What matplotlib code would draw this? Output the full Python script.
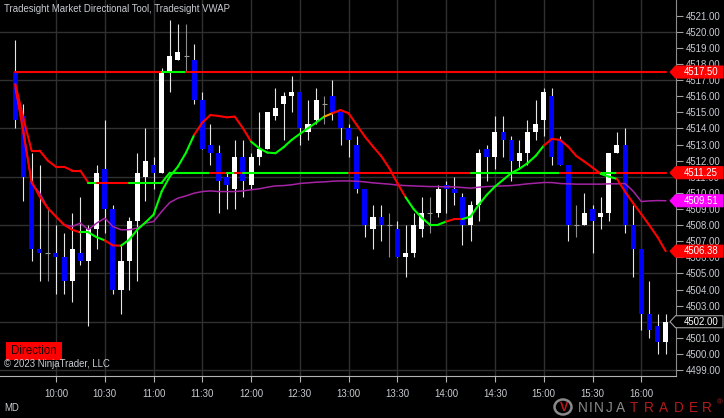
import matplotlib
matplotlib.use("Agg")
import matplotlib.pyplot as plt
import numpy as np
from matplotlib.patches import Polygon, Rectangle, Ellipse
from matplotlib.collections import LineCollection
from matplotlib.ticker import FixedLocator, FuncFormatter

# ---------------- data ----------------
session_start = "09:35"
bar_minutes = 5
time_labels = ["10:00", "10:30", "11:00", "11:30", "12:00", "12:30", "13:00",
               "13:30", "14:00", "14:30", "15:00", "15:30", "16:00"]
price_ticks = list(range(4499, 4522))

opens = [4517.50, 4514.75, 4510.75, 4506.50, 4506.25, 4506.25, 4506.00, 4504.50, 4506.25, 4505.75,
         4507.75, 4511.50, 4509.00, 4504.00, 4505.75, 4508.25, 4511.00, 4511.75, 4511.25, 4517.50,
         4518.25, 4518.50, 4518.25, 4515.75, 4513.00, 4512.50, 4511.00, 4510.25, 4512.25, 4510.50,
         4512.25, 4512.75, 4514.75, 4515.50, 4516.00, 4516.25, 4513.75, 4514.50, 4515.50, 4516.00,
         4515.00, 4514.00, 4513.00, 4510.25, 4507.75, 4508.50, 4508.00, 4507.75, 4506.00, 4506.25,
         4507.75, 4508.75, 4508.75, 4510.50, 4510.25, 4509.75, 4508.00, 4509.25, 4512.75, 4512.25,
         4513.75, 4513.25, 4512.00, 4512.50, 4513.75, 4514.50, 4516.00, 4513.25, 4511.75, 4508.00,
         4508.00, 4509.00, 4508.50, 4508.75, 4512.50, 4513.00, 4508.00, 4506.50, 4502.50, 4501.75,
         4500.75]
highs = [4519.50, 4515.50, 4512.50, 4511.75, 4509.00, 4508.00, 4507.50, 4508.75, 4509.75, 4508.00,
         4511.75, 4514.50, 4509.25, 4506.75, 4508.50, 4512.50, 4514.00, 4512.25, 4517.75, 4520.75,
         4520.50, 4520.50, 4519.25, 4516.25, 4514.25, 4513.00, 4511.25, 4513.25, 4513.25, 4512.50,
         4515.00, 4515.00, 4516.50, 4516.25, 4517.25, 4516.25, 4515.75, 4516.50, 4516.00, 4517.00,
         4515.00, 4514.25, 4513.50, 4510.25, 4509.25, 4509.25, 4508.75, 4508.25, 4508.00, 4508.75,
         4509.75, 4509.75, 4510.50, 4510.75, 4511.00, 4510.00, 4509.50, 4512.75, 4513.00, 4514.75,
         4514.75, 4513.50, 4513.25, 4514.50, 4515.75, 4516.50, 4516.50, 4513.50, 4511.75, 4509.25,
         4510.00, 4509.25, 4509.75, 4512.50, 4513.75, 4514.00, 4509.25, 4506.50, 4504.50, 4502.50,
         4502.50]
lows = [4514.00, 4509.50, 4505.75, 4504.50, 4504.50, 4503.75, 4503.75, 4503.25, 4505.50, 4501.75,
        4506.50, 4507.50, 4503.75, 4502.50, 4504.00, 4504.50, 4509.50, 4510.25, 4511.25, 4516.25,
        4518.25, 4517.50, 4515.50, 4512.75, 4511.75, 4508.75, 4509.00, 4509.00, 4509.75, 4510.25,
        4511.75, 4512.75, 4514.50, 4513.25, 4515.00, 4513.00, 4513.25, 4514.25, 4514.25, 4514.50,
        4513.00, 4512.25, 4510.00, 4507.25, 4506.50, 4507.00, 4506.00, 4506.00, 4504.75, 4506.00,
        4507.25, 4507.50, 4508.50, 4508.75, 4509.25, 4506.75, 4507.00, 4508.25, 4510.75, 4511.50,
        4512.25, 4510.75, 4511.50, 4511.75, 4513.25, 4513.50, 4511.75, 4511.75, 4507.00, 4507.25,
        4508.00, 4506.25, 4507.75, 4508.25, 4512.50, 4507.50, 4504.75, 4501.50, 4501.00, 4500.00,
        4500.00]
closes = [4514.50, 4511.00, 4506.50, 4506.25, 4506.25, 4506.00, 4504.50, 4506.50, 4505.75, 4507.75,
          4511.25, 4509.00, 4504.00, 4505.75, 4508.25, 4511.25, 4512.00, 4511.25, 4517.50, 4518.50,
          4518.75, 4518.50, 4515.75, 4512.75, 4512.50, 4510.75, 4510.50, 4512.25, 4510.75, 4512.25,
          4512.75, 4515.00, 4515.25, 4516.00, 4516.25, 4514.00, 4514.25, 4515.75, 4515.50, 4515.00,
          4514.00, 4513.25, 4510.25, 4508.00, 4508.50, 4508.00, 4508.00, 4506.00, 4506.25, 4508.00,
          4508.75, 4508.75, 4510.25, 4510.25, 4510.00, 4508.00, 4509.25, 4512.50, 4512.25, 4513.75,
          4513.25, 4512.00, 4512.50, 4513.75, 4514.25, 4516.25, 4512.25, 4511.75, 4508.00, 4508.00,
          4508.75, 4508.25, 4508.75, 4512.50, 4513.00, 4508.00, 4506.50, 4502.50, 4501.50, 4500.75,
          4502.00]

session_open_level = 4517.50

range_mid = [4516.75, 4514.62, 4512.62, 4512.62, 4512.00, 4511.62, 4511.62, 4511.38, 4511.38, 4510.62,
             4510.62, 4510.62, 4510.62, 4510.62, 4510.62, 4510.62, 4510.62, 4510.62, 4510.62, 4511.25,
             4511.25, 4511.25, 4511.25, 4511.25, 4511.25, 4511.25, 4511.25, 4511.25, 4511.25, 4511.25,
             4511.25, 4511.25, 4511.25, 4511.25, 4511.25, 4511.25, 4511.25, 4511.25, 4511.25, 4511.25,
             4511.25, 4511.25, 4511.25, 4511.25, 4511.25, 4511.25, 4511.25, 4511.25, 4511.25, 4511.25,
             4511.25, 4511.25, 4511.25, 4511.25, 4511.25, 4511.25, 4511.25, 4511.25, 4511.25, 4511.25,
             4511.25, 4511.25, 4511.25, 4511.25, 4511.25, 4511.25, 4511.25, 4511.25, 4511.25, 4511.25,
             4511.25, 4511.25, 4511.25, 4511.25, 4511.25, 4511.25, 4511.25, 4511.25, 4511.25, 4511.25,
             4511.25]

directional = [4516.69, 4513.70, 4510.70, 4509.77, 4509.05, 4508.53, 4508.02, 4507.71, 4507.54, 4507.54,
               4507.25, 4507.05, 4506.74, 4506.72, 4507.09, 4507.71, 4508.16, 4508.64, 4510.08, 4511.01,
               4511.63, 4512.50, 4513.60, 4514.36, 4514.83, 4514.77, 4514.69, 4514.73, 4514.01, 4513.18,
               4512.77, 4512.50, 4512.46, 4512.83, 4513.29, 4513.66, 4514.01, 4514.36, 4514.73, 4514.94,
               4515.14, 4514.94, 4514.21, 4513.49, 4512.87, 4512.29, 4511.53, 4510.60, 4509.73, 4508.99,
               4508.45, 4508.02, 4508.02, 4508.22, 4508.37, 4508.37, 4508.53, 4509.26, 4509.88, 4510.39,
               4510.81, 4511.22, 4511.49, 4511.84, 4512.29, 4512.93, 4513.35, 4513.29, 4512.87, 4512.29,
               4511.94, 4511.57, 4511.18, 4511.01, 4510.87, 4510.08, 4509.36, 4508.68, 4507.98, 4507.25,
               4506.38]

trend = [-1, -1, -1, -1, -1, -1, -1, -1, -1, 1,
         1, 1, -1, -1, 1, 1, 1, 1, 1, 1,
         1, 1, 1, -1, -1, -1, -1, -1, -1, -1,
         1, 1, 1, 1, 1, 1, 1, 1, 1, 0,
         -1, -1, -1, -1, -1, -1, -1, -1, -1, 1,
         1, 1, 1, 1, -1, -1, 1, 1, 1, 1,
         1, 1, 1, 1, 1, 1, -1, -1, -1, -1,
         -1, -1, -1, 1, 1, -1, -1, -1, -1, -1,
         -1]

vwap = [4516.49, 4513.90, 4510.60, 4509.98, 4509.05, 4508.53, 4508.02, 4507.91, 4508.12, 4507.71,
        4508.12, 4508.43, 4507.91, 4507.71, 4507.71, 4507.81, 4508.12, 4508.22, 4508.84, 4509.40,
        4509.67, 4509.81, 4509.98, 4510.08, 4510.12, 4510.08, 4510.08, 4510.08, 4510.12, 4510.19,
        4510.25, 4510.35, 4510.43, 4510.45, 4510.50, 4510.58, 4510.62, 4510.66, 4510.68, 4510.72,
        4510.74, 4510.74, 4510.72, 4510.68, 4510.62, 4510.58, 4510.54, 4510.48, 4510.45, 4510.43,
        4510.41, 4510.39, 4510.39, 4510.37, 4510.37, 4510.33, 4510.29, 4510.35, 4510.39, 4510.41,
        4510.43, 4510.45, 4510.50, 4510.56, 4510.60, 4510.64, 4510.64, 4510.58, 4510.56, 4510.54,
        4510.54, 4510.54, 4510.54, 4510.56, 4510.56, 4510.58, 4510.10, 4509.46, 4509.50, 4509.52,
        4509.51]

# ---------------- styling ----------------
W, H = 724, 418
FONT = ["Liberation Sans", "DejaVu Sans"]
plt.rcParams["font.family"] = FONT
RED, GREEN, ORANGE = "#ff0000", "#00ff00", "#ff9900"
TXT = "#c8ccd2"
GRID = "#303030"

fig = plt.figure(figsize=(W / 100, H / 100), dpi=100, facecolor="black")
plot_right, plot_bottom = 676, 375.7
ax = fig.add_axes([0, 1 - plot_bottom / H, plot_right / W, plot_bottom / H])
ax.set_facecolor("black")

n = len(closes)
x = np.arange(n)
O, Hh, L, C = map(np.array, (opens, highs, lows, closes))

px_per_bar = 8.13
first_px = 15.3
ax.set_xlim(-first_px / px_per_bar, (plot_right - first_px) / px_per_bar)
ax.set_ylim(4498.65, 4521.97)

# grid
for p in price_ticks:
    if (p - 4499) % 3 == 0:
        ax.axhline(p, color=GRID, lw=1.0, zorder=0)


def tpos(lbl):
    h, m = map(int, lbl.split(":"))
    sh, sm = map(int, session_start.split(":"))
    return ((h * 60 + m) - (sh * 60 + sm)) / bar_minutes


tick_x = [tpos(t) for t in time_labels]
for tx in tick_x:
    ax.axvline(tx, color=GRID, lw=1.0, zorder=0)

# candles
doji = O == C
up = C > O
wick_col = np.where(doji, "#8c8c8c", "#e6e6e6")
ax.vlines(x, L, Hh, colors=wick_col, lw=0.8, zorder=2)
body_col = np.where(up, "#ffffff", "#0000ff")
bw = 0.62
ax.bar(x[~doji], np.abs(C - O)[~doji], bottom=np.minimum(O, C)[~doji], width=bw,
       color=body_col[~doji], linewidth=0, zorder=3)
ax.hlines(O[doji], x[doji] - bw / 2, x[doji] + bw / 2, colors="#9a9a9a", lw=0.8, zorder=3)


def seg_line(vals, colors, lw, z):
    vals = np.asarray(vals)
    pts = np.column_stack([x, vals])
    segs = [pts[i - 1:i + 1] for i in range(1, n)]
    lc = LineCollection(segs, colors=colors, linewidths=lw, zorder=z, capstyle="round",
                        joinstyle="round")
    ax.add_collection(lc)


# session open level: green where the bar closes above it
open_arr = np.full(n, session_open_level)
seg_line(open_arr, [GREEN if C[i] > session_open_level else RED for i in range(1, n)], 1.5, 5)
# range mid line
mid = np.array(range_mid)
seg_line(mid, [GREEN if C[i] > mid[i] else RED for i in range(1, n)], 1.5, 5)
# VWAP
ax.plot(x, vwap, color="#a524a5", lw=1.1, zorder=6)
# directional line
cmap = {1: GREEN, -1: RED, 0: ORANGE}
seg_line(directional, [cmap[trend[i]] for i in range(1, n)], 1.5, 7)

# axes / ticks
for s in ("left", "top"):
    ax.spines[s].set_visible(False)
ax.spines["right"].set_color("#8c8c8c")
ax.spines["bottom"].set_color("#b4b4b4")
ax.yaxis.tick_right()
ax.yaxis.set_major_locator(FixedLocator(price_ticks))
ax.yaxis.set_major_formatter(FuncFormatter(lambda v, p: f"{v:.2f}"))
ax.tick_params(axis="y", colors="#a0a0a0", labelcolor=TXT, length=5, width=0.8,
               pad=2, labelsize=6.9)
ax.set_xticks(tick_x)
ax.set_xticklabels(time_labels)
ax.tick_params(axis="x", colors="#b4b4b4", labelcolor=TXT, length=4, width=0.8,
               pad=5.5, labelsize=6.9)


# price markers
def marker(value, face, edge):
    yd = ax.transData.transform((0, value))[1]
    hh = 6.0
    pts = [(670, yd), (675.5, yd + hh), (723, yd + hh), (723, yd - hh), (675.5, yd - hh)]
    poly = Polygon([(a / W, b / H) for a, b in pts], closed=True, transform=fig.transFigure,
                   facecolor=face, edgecolor=edge, lw=0.8, zorder=5)
    fig.add_artist(poly)
    fig.text(684 / W, yd / H, f"{value:.2f}", color="white", fontsize=6.9,
             va="center", ha="left", zorder=6)


marker(session_open_level, RED, RED)
marker(range_mid[-1], RED if C[-1] <= range_mid[-1] else GREEN, RED)
marker(vwap[-1], "#ff00ff", "#ff00ff")
marker(directional[-1], cmap[trend[-1]], cmap[trend[-1]])
marker(closes[-1], "black", "#a0a0a0")

# texts
fig.text(4 / W, 1 - 9 / H, "Tradesight Market Directional Tool, Tradesight VWAP",
         color=TXT, fontsize=6.9, va="center", ha="left")
fig.add_artist(Rectangle((5.7 / W, 1 - 360 / H), 56 / W, 18.3 / H, transform=fig.transFigure,
                         facecolor=RED, edgecolor="none", zorder=5))
fig.text(33.7 / W, 1 - 351 / H, "Direction", color="#1a0000", fontsize=8.3,
         va="center", ha="center", zorder=6)
fig.text(4 / W, 1 - 364 / H, "© 2023 NinjaTrader, LLC", color=TXT, fontsize=6.9,
         va="center", ha="left", zorder=6)
fig.text(4 / W, 1 - 408 / H, "MD", color=TXT, fontsize=6.9, va="center", ha="left")

# NinjaTrader logo
fig.add_artist(Ellipse((563 / W, 1 - 407 / H), 17 / W, 15 / H, transform=fig.transFigure,
                       facecolor="none", edgecolor="#8a8a8a", lw=1.8))
fig.text(564 / W, 1 - 408 / H, "V", color="#c0161b", fontsize=9, fontweight="bold",
         va="center", ha="center")
letters = "NINJATRADER"
centers = [582.5, 591, 598.5, 609, 621, 634, 649, 663.5, 679, 693, 707]
for i, (ch, cx) in enumerate(zip(letters, centers)):
    fig.text(cx / W, 1 - 408.5 / H, ch, color="#8a8a8a" if i < 5 else "#b31b1b",
             fontsize=9.8, va="center", ha="center")
fig.text(719.5 / W, 1 - 403 / H, "®", color="#b31b1b", fontsize=5.5, va="center", ha="center")

fig.savefig("out.png", dpi=100, facecolor="black")
